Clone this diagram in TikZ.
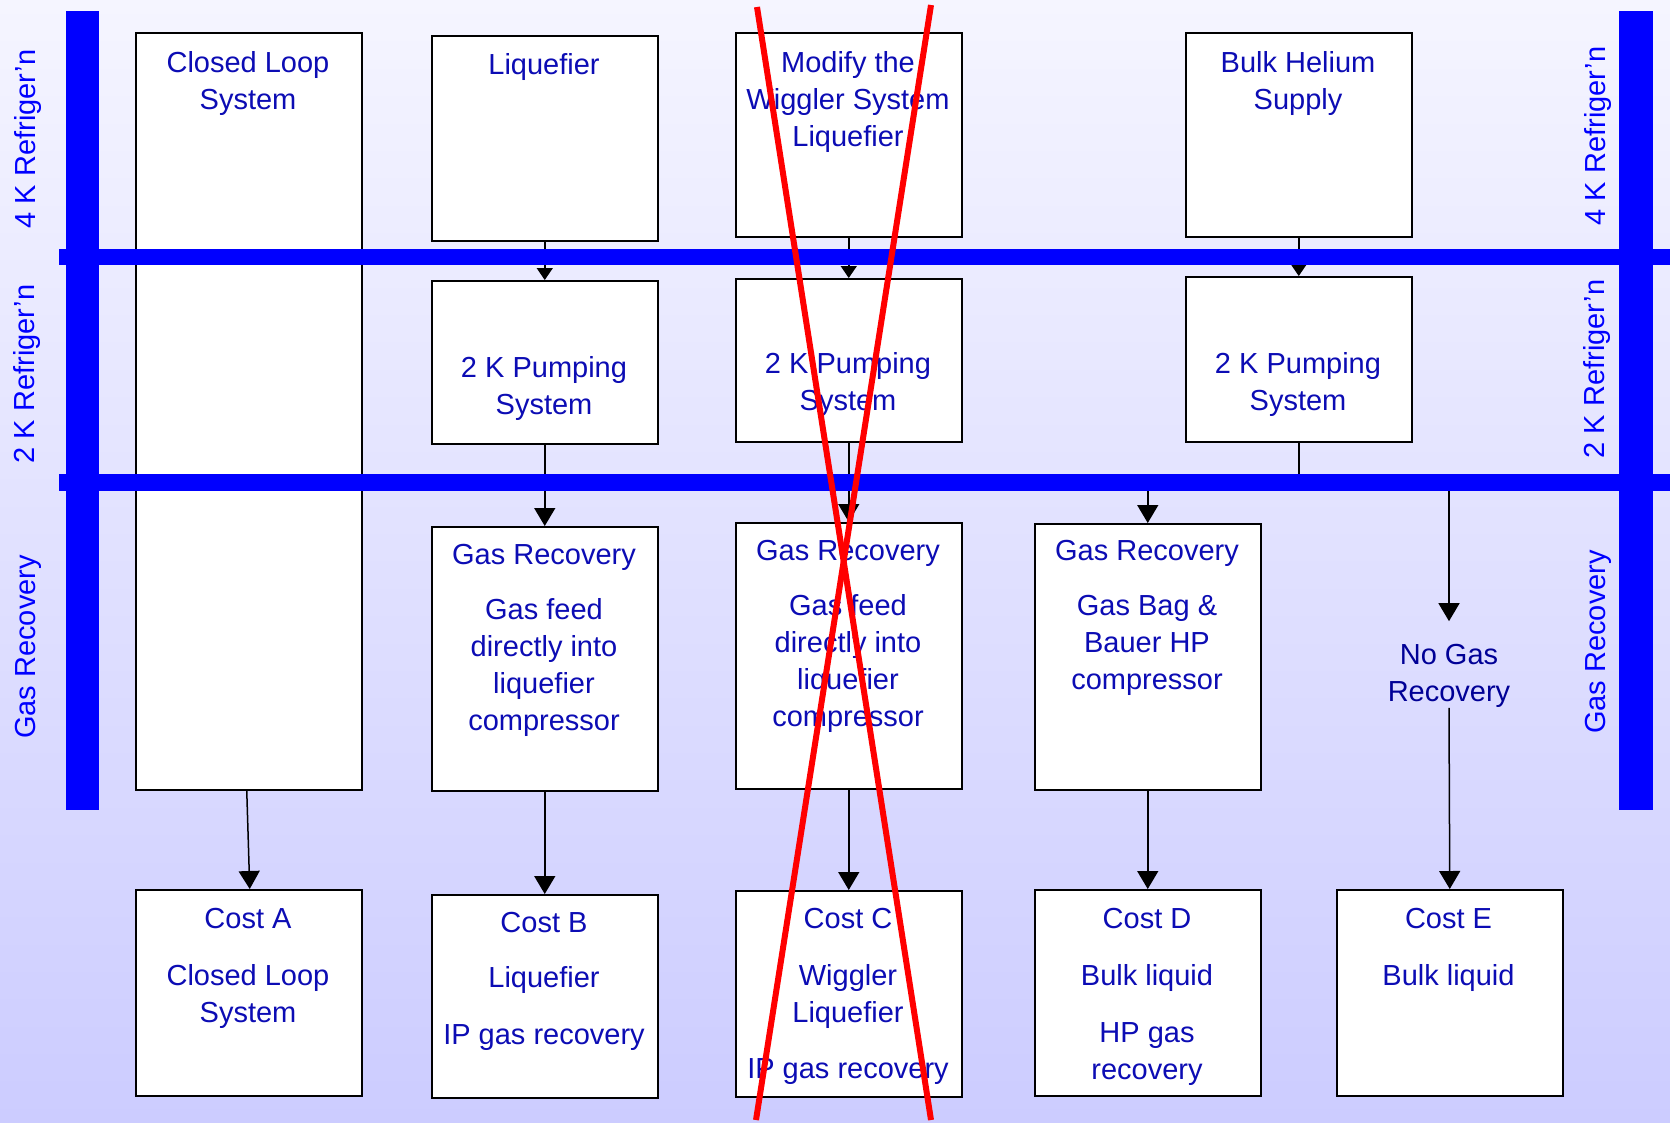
\documentclass[tikz,border=0pt]{standalone}
\usepackage{fontspec}
\setmainfont{Liberation Sans}
\usetikzlibrary{arrows.meta}

\definecolor{bgtop}{RGB}{245,245,255}
\definecolor{bgbot}{RGB}{204,204,255}
\definecolor{barblue}{RGB}{0,0,255}
\definecolor{boxtext}{RGB}{12,12,180}
\definecolor{freetext}{RGB}{0,0,150}
\definecolor{strike}{RGB}{255,0,0}

\tikzset{
  box/.style={draw=black, line width=1.5pt, fill=white, inner sep=0pt,
              minimum width=226pt, anchor=north west},
  txt/.style={font=\fontsize{29}{37}\selectfont, text=boxtext, align=center,
              anchor=north, inner sep=0pt},
  bar/.style={fill=barblue, draw=none, inner sep=0pt, anchor=north west},
  side/.style={font=\fontsize{29}{34}\selectfont, text=barblue, rotate=90, inner sep=0pt},
  conn/.style={draw=black, line width=1.5pt},
  smallhead/.style={conn, -{Triangle[width=16pt,length=12pt]}},
  bighead/.style={conn, -{Triangle[width=21pt,length=18pt]}},
  strikeline/.style={draw=strike, line width=6pt}
}

\begin{document}
\begin{tikzpicture}[x=1pt,y=-1pt]
\useasboundingbox (0,0) rectangle (1670,1122);
\shade[top color=bgtop, bottom color=bgbot] (0,0) rectangle (1670,1122);

% ---- boxes ----
\node[box, minimum height=757pt] (closed) at (135,32) {};
\node[box, minimum height=205pt] (liq)    at (431,35) {};
\node[box, minimum height=163pt] (liq2k)  at (431,280) {};
\node[box, minimum height=264pt] (gasB)   at (431,526) {};
\node[box, minimum height=203pt] (costB)  at (431,894) {};

\node[box, minimum height=204pt] (modify) at (735,32) {};
\node[box, minimum height=163pt] (mod2k)  at (735,278) {};
\node[box, minimum height=266pt] (gasC)   at (735,522) {};
\node[box, minimum height=206pt] (costC)  at (735,890) {};

\node[box, minimum height=204pt] (bulk)   at (1185,32) {};
\node[box, minimum height=165pt] (bulk2k) at (1185,276) {};

\node[box, minimum height=266pt] (gasD)   at (1034,523) {};
\node[box, minimum height=206pt] (costD)  at (1034,889) {};

\node[box, minimum height=206pt] (costA)  at (135,889) {};
\node[box, minimum height=206pt] (costE)  at (1336,889) {};

% ---- box texts ----
\node[txt] (tclosed) at (248,51.5) {Closed Loop\\System};
\node[txt] (tliq)    at (544,53.5) {Liquefier};
\node[txt] (tmodify) at (848,51.5) {Modify the\\Wiggler System\\Liquefier};
\node[txt] (tbulk)   at (1298,51.5) {Bulk Helium\\Supply};

\node[txt] (tliq2k)  at (544,356.5) {2 K Pumping\\System};
\node[txt] (tmod2k)  at (848,352.5) {2 K Pumping\\System};
\node[txt] (tbulk2k) at (1298,352.5) {2 K Pumping\\System};

\node[txt] (tgasB) at (544,544.5) {Gas Recovery\\[18pt]Gas feed\\directly into\\liquefier\\compressor};
\node[txt] (tgasC) at (848,540.5) {Gas Recovery\\[18pt]Gas feed\\directly into\\liquefier\\compressor};
\node[txt] (tgasD) at (1147,540.5) {Gas Recovery\\[18pt]Gas Bag \&\\Bauer HP\\compressor};

\node[txt] (tcostA) at (248,908.5) {Cost A\\[20pt]Closed Loop\\System};
\node[txt] (tcostB) at (544,912.5) {Cost B\\[18pt]Liquefier\\[20pt]IP gas recovery};
\node[txt] (tcostC) at (848,908.5) {Cost C\\[20pt]Wiggler\\Liquefier\\[19pt]IP gas recovery};
\node[txt] (tcostD) at (1147,908.5) {Cost D\\[20pt]Bulk liquid\\[20pt]HP gas\\recovery};
\node[txt] (tcostE) at (1448.5,908.5) {Cost E\\[20pt]Bulk liquid};

\node[txt, text=freetext, anchor=center] (nogas) at (1449,676) {No Gas\\Recovery};

% ---- connectors ----
\draw[bighead] ([xshift=-2pt]closed.south) -- ([xshift=1pt]costA.north);
\draw[smallhead] (liq.south) -- (liq2k.north);
\draw[bighead] (liq2k.south) -- (gasB.north);
\draw[bighead] (gasB.south) -- (costB.north);
\draw[smallhead] (modify.south) -- (mod2k.north);
\draw[bighead] (mod2k.south) -- (gasC.north);
\draw[bighead] (gasC.south) -- (costC.north);
\draw[smallhead] (bulk.south) -- (bulk2k.north);
\draw[bighead] (gasD.south) -- (costD.north);
\draw[bighead] (nogas.south) -- (costE.north);

% ---- level bars ----
\node[bar, minimum width=33pt, minimum height=799pt] (leftbar)  at (66,11) {};
\node[bar, minimum width=34pt, minimum height=799pt] (rightbar) at (1619,11) {};
\node[bar, minimum width=1611pt, minimum height=16pt] (topbar) at (59,249) {};
\node[bar, minimum width=1611pt, minimum height=17pt] (midbar) at (59,474) {};

\draw[conn] (bulk2k.south) -- (bulk2k.south |- midbar.north);
\draw[bighead] (midbar.south -| gasD.north) -- (gasD.north);
\draw[bighead, shorten >=23pt] (midbar.south -| nogas.north) -- (nogas.north);

% ---- level labels ----
\node[side] (l4k)  at (28,139) {4 K Refriger’n};
\node[side] (l2k)  at (27,374) {2 K Refriger’n};
\node[side] (lgas) at (28,647) {Gas Recovery};
\node[side] (r4k)  at (1598,136) {4 K Refriger’n};
\node[side] (r2k)  at (1597,369) {2 K Refriger’n};
\node[side] (rgas) at (1598,642) {Gas Recovery};

% ---- struck-out option ----
\coordinate (xa) at (757,7);
\coordinate (xb) at (931,1120);
\coordinate (xc) at (931,5);
\coordinate (xd) at (756,1120);
\draw[strikeline] (xa) -- (xb);
\draw[strikeline] (xc) -- (xd);
\end{tikzpicture}
\end{document}
